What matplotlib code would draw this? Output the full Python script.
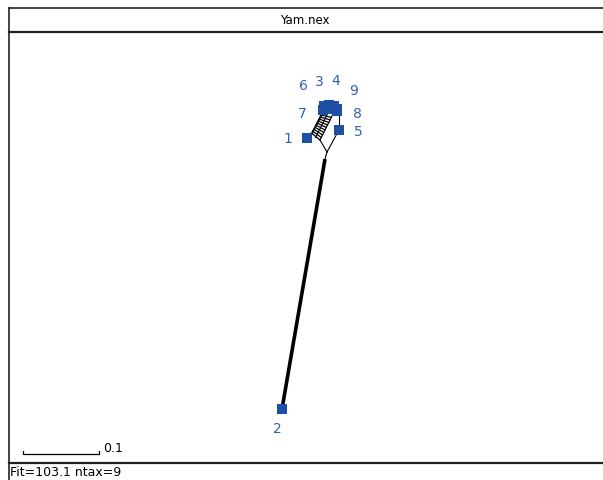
import matplotlib
matplotlib.use('Agg')
import matplotlib.pyplot as plt
import numpy as np

# taxa positions in tree units (scale bar = 0.1)
taxa = ['1', '2', '3', '4', '5', '6', '7', '8', '9']
tx = [0.0329, 0.0, 0.0618, 0.0684, 0.0750, 0.0553, 0.0539, 0.0724, 0.0724]
ty = [0.3566, 0.0, 0.4000, 0.3987, 0.3671, 0.3987, 0.3934, 0.3921, 0.3947]
# label offsets (pixels)
lab_dx = [-19, -5, -10, 2, 19, -21, -21, 20, 17]
lab_dy = [0, -19, 24, 26, -1, 21, -3, -2, 19]

# internal nodes
inner = {
    'j2': (0.0566, 0.3289),
    'j': (0.0592, 0.3382),
    'a': (0.0500, 0.3539),
    'b': (0.0382, 0.3605),
    'c': (0.0526, 0.3882),
    'd': (0.0671, 0.3882),
    'e': (0.0750, 0.3868),
}
nodes = dict(inner)
for t, x, y in zip(taxa, tx, ty):
    nodes[t] = (x, y)

thin_edges = [('j2', 'j'), ('j', 'a'), ('j', '5'), ('5', 'e'), ('b', '1'),
              ('a', 'd'), ('c', '7'), ('d', '9'), ('e', '8')]
thick_edges = [('2', 'j2')]
cluster_edges = [('7', '8'), ('6', '4'), ('3', '9')]
n_rungs = 10
scale_len = 0.1
sq_color = '#1f4fa5'

W, H = 603, 481
fig = plt.figure(figsize=(W/100, H/100), dpi=100)
ax = fig.add_axes([0, 0, 1, 1])
ax.set_xlim(-282/760, (W-282)/760)
ax.set_ylim((410-H)/760, 410/760)
ax.axis('off')

for u, v in thin_edges:
    ax.plot([nodes[u][0], nodes[v][0]], [nodes[u][1], nodes[v][1]], color='black', lw=0.8)
for u, v in thick_edges:
    ax.plot([nodes[u][0], nodes[v][0]], [nodes[u][1], nodes[v][1]], color='black', lw=2.6,
            solid_capstyle='butt')

# band of parallel splits
b = np.array(nodes['b']); c = np.array(nodes['c'])
a = np.array(nodes['a']); d = np.array(nodes['d'])
ax.plot([b[0], c[0]], [b[1], c[1]], color='black', lw=1.4)
mid0 = (a + b) / 2; mid1 = (c + d) / 2
ax.plot([mid0[0], mid1[0]], [mid0[1], mid1[1]], color='black', lw=0.8)
for t in np.linspace(0.08, 0.95, n_rungs):
    p = b + t*(c - b)
    q = a + (t - 0.08)*(d - a)
    ax.plot([p[0], q[0]], [p[1], q[1]], color='black', lw=0.9)

for u, v in cluster_edges:
    ax.plot([nodes[u][0], nodes[v][0]], [nodes[u][1], nodes[v][1]], color=sq_color, lw=5,
            zorder=4)
ax.plot(tx, ty, 's', color=sq_color, markersize=6.5, markeredgewidth=0, zorder=5)
for t, x, y, dx, dy in zip(taxa, tx, ty, lab_dx, lab_dy):
    ax.annotate(t, (x, y), xytext=(dx, dy), textcoords='offset pixels',
                ha='center', va='center', fontsize=10, color='#3560b0')

# frame
lk = dict(transform=ax.transAxes, color='#222222', clip_on=False)
ax.plot([8.5/W, 1], [1-9/H, 1-9/H], lw=1.2, **lk)
ax.plot([8.5/W, 1], [1-33/H, 1-33/H], lw=1.6, **lk)
ax.plot([8.5/W, 1], [1-464/H, 1-464/H], lw=1.6, **lk)
ax.plot([8.5/W, 8.5/W], [1-9/H, 0], lw=1.2, **lk)
ax.text(305/W, 1-21/H, 'Yam.nex', transform=ax.transAxes, ha='center', va='center', fontsize=8.5)
ax.text(10/W, 1-473/H, 'Fit=103.1 ntax=9', transform=ax.transAxes, ha='left', va='center', fontsize=9)

# scale bar
sx, sy = ax.transData.inverted().transform(ax.transAxes.transform((23/W, 1-455/H)))
tick = 3/760
ax.plot([sx, sx, sx+scale_len, sx+scale_len], [sy+tick, sy, sy, sy+tick], color='black', lw=0.9)
ax.annotate('0.1', (sx+scale_len, sy), xytext=(4, 6), textcoords='offset pixels',
            ha='left', va='center', fontsize=9)

fig.savefig('out.png', dpi=100)
